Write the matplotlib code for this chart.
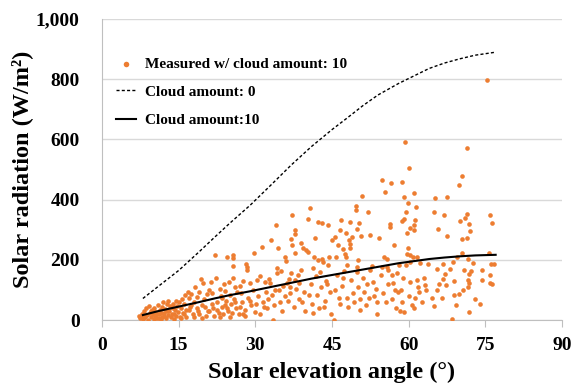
import numpy as np
import matplotlib.pyplot as plt

# model curves
curve_angle = [8, 11, 15, 19, 22, 25, 29, 33, 37, 41, 45, 48, 51, 54, 58, 61, 64, 67, 70, 73, 77]
clear_sky = [72, 112, 165, 227, 275, 322, 382, 448, 515, 577, 633, 672, 712, 748, 786, 811, 836, 854, 868, 880, 890]
overcast = [17, 30, 45, 60, 72, 83, 96, 110, 124, 138, 150, 159, 168, 177, 189, 196, 203, 208, 212, 215, 217]

# measured points w/ cloud amount 10: (elevation angle, radiation)
measured = [
    (7.2, 15), (7.5, 8), (7.8, 22), (8.0, 5), (8.2, 30), (8.4, 12), (8.6, 40), (8.8, 18), (9.0, 2), (9.1, 48),
    (9.3, 25), (9.5, 10), (9.7, 35), (9.9, 20), (10.1, 5), (10.2, 42), (10.4, 15), (10.6, 28), (10.8, 8), (11.0, 50),
    (11.1, 20), (11.3, 35), (11.5, 3), (11.7, 45), (11.8, 12), (12.0, 60), (12.2, 25), (12.3, 38), (12.5, 8), (12.7, 52),
    (12.9, 18), (13.0, 65), (13.2, 30), (13.4, 10), (13.5, 45), (13.7, 22), (13.9, 55), (14.1, 5), (14.2, 35), (14.4, 15),
    (14.6, 48), (14.8, 28), (15.0, 60), (15.2, 12), (15.4, 40), (15.6, 70), (15.8, 25), (16.0, 55), (16.3, 85), (16.5, 35),
    (16.8, 95), (17.0, 75), (17.2, 45), (17.5, 88), (17.8, 20), (18.0, 60), (18.2, 110), (18.5, 78), (18.8, 30), (19.0, 95),
    (19.3, 137), (19.5, 50), (19.7, 122), (20.0, 70), (20.3, 15), (20.5, 88), (20.9, 99), (21.3, 127), (21.6, 91), (21.8, 40),
    (22.1, 218), (22.3, 139), (22.5, 60), (22.8, 25), (23.0, 105), (23.2, 80), (23.5, 45), (23.9, 119), (24.1, 97), (24.3, 65),
    (24.5, 210), (24.7, 30), (24.9, 127), (25.0, 85), (25.3, 55), (25.7, 215), (25.7, 205), (25.7, 179), (25.7, 141), (25.9, 70),
    (26.2, 40), (26.5, 95), (26.8, 20), (27.0, 115), (27.3, 60), (27.6, 130), (27.9, 35), (28.1, 186), (28.3, 177), (28.4, 166),
    (28.6, 75), (28.9, 125), (29.2, 50), (29.5, 100), (29.8, 224), (30.0, 28), (30.4, 133), (30.6, 80), (30.9, 146), (31.2, 242),
    (31.5, 60), (31.8, 127), (32.0, 95), (32.2, 40), (32.5, 70), (32.7, 138), (32.9, 122), (33.0, 267), (33.3, 85), (33.5, 2),
    (33.7, 50), (34.0, 315), (34.2, 173), (34.3, 155), (34.5, 239), (34.7, 100), (35.0, 164), (35.2, 30), (35.5, 115), (35.7, 210),
    (36.0, 196), (36.1, 124), (36.3, 65), (36.5, 138), (36.7, 90), (36.9, 155), (37.0, 270), (37.2, 348), (37.2, 249), (37.5, 45),
    (37.7, 298), (37.7, 287), (37.8, 222), (37.8, 133), (38.0, 105), (38.3, 151), (38.6, 70), (39.0, 256), (39.0, 166), (39.3, 241),
    (39.5, 95), (39.8, 30), (40.0, 232), (40.2, 335), (40.3, 225), (40.6, 372), (40.8, 120), (41.0, 55), (41.2, 173), (41.5, 210),
    (41.7, 273), (41.8, 148), (42.0, 85), (42.2, 326), (42.2, 199), (42.5, 40), (42.8, 110), (43.0, 323), (43.0, 203), (43.3, 193),
    (43.6, 65), (43.9, 130), (44.2, 317), (44.2, 182), (44.4, 210), (44.6, 95), (44.8, 20), (45.0, 267), (45.3, 2), (45.5, 277),
    (45.7, 210), (45.9, 150), (46.1, 248), (46.3, 75), (46.6, 300), (46.7, 331), (46.9, 115), (47.1, 236), (47.4, 164), (47.6, 220),
    (47.8, 291), (47.8, 210), (48.0, 182), (48.2, 45), (48.4, 267), (48.5, 252), (48.5, 241), (48.6, 326), (48.8, 135), (48.9, 276),
    (49.1, 90), (49.3, 60), (49.6, 379), (49.6, 366), (49.8, 304), (49.8, 177), (49.8, 160), (50.0, 110), (50.1, 199), (50.2, 324),
    (50.4, 70), (50.6, 278), (50.8, 412), (51.0, 140), (51.3, 95), (51.6, 50), (52.0, 358), (52.4, 168), (52.5, 284), (52.8, 180),
    (53.0, 127), (53.2, 80), (53.5, 105), (53.8, 60), (54.2, 274), (54.5, 150), (54.7, 464), (54.8, 177), (55.0, 90), (55.1, 209),
    (55.4, 425), (55.7, 204), (55.8, 177), (55.9, 166), (56.0, 120), (56.3, 318), (56.3, 309), (56.5, 455), (56.7, 70), (57.0, 122),
    (57.3, 100), (57.5, 40), (57.7, 155), (57.9, 94), (58.0, 182), (58.4, 99), (58.6, 459), (58.6, 328), (58.6, 61), (58.8, 140),
    (59.0, 409), (59.1, 337), (59.1, 28), (59.3, 593), (59.4, 359), (59.5, 182), (59.6, 219), (59.7, 291), (59.8, 389), (60.0, 80),
    (60.1, 505), (60.2, 307), (60.2, 215), (60.2, 193), (60.3, 127), (60.6, 50), (60.9, 210), (61.0, 423), (61.0, 315), (61.0, 298),
    (61.0, 39), (61.3, 331), (61.3, 72), (61.4, 375), (61.6, 210), (61.6, 135), (61.8, 110), (62.0, 95), (62.5, 60), (63.2, 118),
    (63.4, 99), (63.8, 188), (64.5, 75), (64.9, 358), (64.9, 48), (65.2, 405), (65.6, 99), (65.8, 303), (66.6, 75), (66.7, 188),
    (66.7, 138), (66.8, 350), (67.0, 152), (67.2, 116), (67.4, 408), (67.4, 280), (68.5, 3), (68.7, 192), (68.8, 130), (68.8, 83),
    (69.2, 50), (69.9, 450), (69.9, 88), (70.1, 329), (70.4, 224), (70.5, 480), (70.5, 271), (70.6, 99), (71.0, 340), (71.3, 573),
    (71.3, 354), (71.4, 274), (71.5, 204), (71.5, 133), (71.6, 110), (71.7, 28), (71.8, 320), (71.8, 152), (71.8, 122), (72.0, 296),
    (72.2, 164), (74.0, 53), (74.3, 166), (74.3, 133), (75.3, 796), (75.7, 224), (75.8, 348), (75.9, 151), (75.9, 122), (76.0, 188),
    (76.3, 324), (76.3, 119), (76.7, 186),
    (21.0, 30), (22.0, 15), (23.7, 20), (24.0, 50), (25.5, 25), (26.0, 110), (27.2, 90), (28.0, 15), (29.0, 65), (30.2, 55),
    (31.0, 20), (31.7, 45), (33.8, 100), (34.8, 60), (35.8, 80), (36.8, 110), (38.6, 125), (39.2, 60), (40.5, 85), (41.3, 25),
    (42.6, 160), (43.5, 45), (44.0, 120), (45.6, 100), (46.5, 55), (47.2, 140), (48.0, 75), (50.5, 35), (51.8, 120), (52.2, 75),
    (53.8, 20), (55.5, 60), (56.8, 150), (57.2, 250), (58.2, 30), (59.9, 240), (62.2, 190), (63.0, 140), (65.5, 170), (66.0, 120),
    (68.0, 170), (69.5, 210), (70.8, 165), (72.5, 190), (73.0, 70),
    (15.5, 8), (16.0, 20), (16.5, 10), (17.0, 35), (17.5, 50), (18.0, 12), (18.5, 40), (19.0, 22), (19.5, 8), (20.2, 45),
    (20.8, 30), (21.5, 55), (22.5, 35), (23.0, 10), (23.5, 75), (24.5, 40), (25.0, 10), (26.0, 60), (27.0, 45), (27.5, 20),
    (8.0, 10), (9.5, 30), (10.5, 22), (11.2, 8), (12.1, 15), (12.8, 30), (13.3, 48), (14.0, 20), (14.5, 62), (10.0, 33),
    (11.5, 25), (13.8, 40),
]
meas_angle, meas_rad = np.array(measured).T

x_ticks = [0, 15, 30, 45, 60, 75, 90]
y_ticks = [0, 200, 400, 600, 800, 1000]

plt.rcParams['font.family'] = ['Liberation Serif', 'DejaVu Serif']
plt.rcParams['font.weight'] = 'bold'

fig = plt.figure(figsize=(5.73, 3.89), dpi=100)
ax = fig.add_axes([0.178, 0.177, 0.803, 0.774])

ax.scatter(meas_angle, meas_rad, s=11, color='#ED7D31', linewidths=0,
           label='Measured w/ cloud amount: 10', zorder=3)
ax.plot(curve_angle, clear_sky, color='black', lw=1.0, ls=(0, (2.2, 1.6)),
        label='Cloud amount: 0', zorder=4)
ax.plot(curve_angle, overcast, color='black', lw=1.5, label='Cloud amount:10', zorder=4)

ax.set_xlim(0, 90)
ax.set_ylim(0, 1000)
ax.set_xticks(x_ticks)
ax.set_yticks(y_ticks)
ax.set_yticklabels([f'{v:,}' for v in y_ticks])
ax.grid(axis='y', color='#d9d9d9', lw=1.0)
ax.set_axisbelow(True)
for side in ['top', 'right']:
    ax.spines[side].set_visible(False)
for side in ['left', 'bottom']:
    ax.spines[side].set_color('#bfbfbf')
ax.tick_params(axis='x', length=5, color='#bfbfbf', labelsize=14, pad=7)
ax.tick_params(axis='y', length=0, labelsize=14, pad=16)

ax.set_xlabel('Solar elevation angle (°)', fontsize=17.5, fontweight='bold', labelpad=6)
ax.set_ylabel('Solar radiation (W/m²)', fontsize=17.5, fontweight='bold', labelpad=2)

ax.legend(loc='upper left', bbox_to_anchor=(0.0, 0.92), frameon=False,
          prop={'size': 11, 'weight': 'bold'}, handlelength=1.3, handletextpad=0.6,
          labelspacing=0.95, markerscale=1.2)

fig.savefig('out.png', dpi=100)
